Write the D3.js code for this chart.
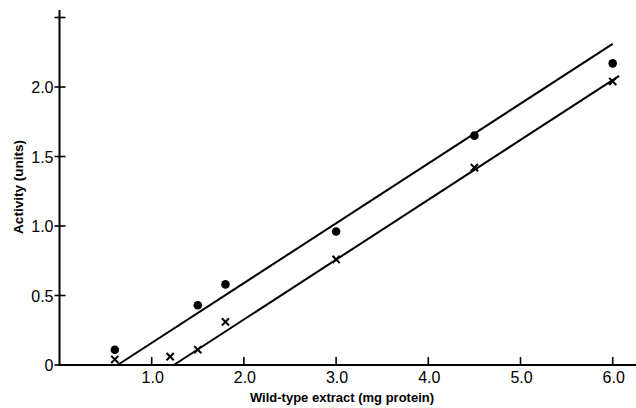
<!DOCTYPE html>
<html>
<head>
<meta charset="utf-8">
<script src="https://cdn.jsdelivr.net/npm/d3@7"></script>
<style>
  html, body { margin: 0; padding: 0; background: #fff; }
  svg { display: block; }
</style>
</head>
<body>
<svg id="chart" width="636" height="408"></svg>
<script>
// ---- data ----
const dotX   = [0.6, 1.5, 1.8, 3.0, 4.5, 6.0];
const dotY   = [0.11, 0.43, 0.58, 0.96, 1.65, 2.17];
const crossX = [0.6, 1.2, 1.5, 1.8, 3.0, 4.5, 6.0];
const crossY = [0.04, 0.06, 0.11, 0.31, 0.76, 1.42, 2.04];
// fitted straight lines (start and end points)
const lineDotsX  = [0.63, 6.0];
const lineDotsY  = [0.0, 2.31];
const lineCrossX = [1.24, 6.07];
const lineCrossY = [0.0, 2.08];
const xTicks = [1, 2, 3, 4, 5, 6];
const xTickLabels = ["1.0", "2.0", "3.0", "4.0", "5.0", "6.0"];
const yTicks = [0, 0.5, 1.0, 1.5, 2.0, 2.5];
const yTickLabels = ["0", "0.5", "1.0", "1.5", "2.0", ""];
const xTitle = "Wild-type extract (mg protein)";
const yTitle = "Activity (units)";

// ---- layout ----
const svg = d3.select("#chart");
const x = d3.scaleLinear().domain([0, 6]).range([59.5, 612.7]);
const y = d3.scaleLinear().domain([0, 2.5]).range([365, 17.5]);
const font = "'Liberation Sans', Arial, Helvetica, sans-serif";

// axes lines
svg.append("line")
  .attr("x1", x(0)).attr("x2", 636)
  .attr("y1", y(0)).attr("y2", y(0))
  .attr("stroke", "#000").attr("stroke-width", 2);
svg.append("line")
  .attr("x1", x(0)).attr("x2", x(0))
  .attr("y1", y(0) + 1).attr("y2", 10)
  .attr("stroke", "#000").attr("stroke-width", 2);

// x ticks (inward)
svg.selectAll(".xt").data(xTicks).join("line")
  .attr("x1", d => x(d)).attr("x2", d => x(d))
  .attr("y1", y(0)).attr("y2", y(0) - 8)
  .attr("stroke", "#000").attr("stroke-width", 1.6);
svg.selectAll(".xl").data(xTicks).join("text")
  .attr("x", d => x(d) + 1).attr("y", y(0) + 18)
  .attr("text-anchor", "middle")
  .attr("font-family", font).attr("font-size", 16)
  .text((d, i) => xTickLabels[i]);

// y ticks (crossing)
svg.selectAll(".yt").data(yTicks).join("line")
  .attr("x1", d => x(0) - 5).attr("x2", d => x(0) + 6)
  .attr("y1", d => y(d)).attr("y2", d => y(d))
  .attr("stroke", "#000").attr("stroke-width", 1.6);
svg.selectAll(".yl").data(yTicks).join("text")
  .attr("x", x(0) - 6).attr("y", d => y(d) + 6)
  .attr("text-anchor", "end")
  .attr("font-family", font).attr("font-size", 16)
  .text((d, i) => yTickLabels[i]);

// titles
svg.append("text")
  .attr("x", 342).attr("y", 402)
  .attr("text-anchor", "middle")
  .attr("font-family", font).attr("font-weight", "bold").attr("font-size", 13)
  .text(xTitle);
svg.append("text")
  .attr("transform", "translate(23,187) rotate(-90)")
  .attr("text-anchor", "middle")
  .attr("font-family", font).attr("font-weight", "bold").attr("font-size", 13.5)
  .text(yTitle);

// fitted lines
const lineGen = d3.line().x(d => x(d[0])).y(d => y(d[1]));
svg.append("path")
  .attr("d", lineGen(d3.zip(lineDotsX, lineDotsY)))
  .attr("fill", "none").attr("stroke", "#000").attr("stroke-width", 2);
svg.append("path")
  .attr("d", lineGen(d3.zip(lineCrossX, lineCrossY)))
  .attr("fill", "none").attr("stroke", "#000").attr("stroke-width", 2);

// dots
svg.selectAll(".dot").data(d3.zip(dotX, dotY)).join("circle")
  .attr("cx", d => x(d[0])).attr("cy", d => y(d[1]))
  .attr("r", 4.3).attr("fill", "#000");

// crosses
const cs = 3.6;
const crossG = svg.selectAll(".cross").data(d3.zip(crossX, crossY)).join("g")
  .attr("transform", d => `translate(${x(d[0])},${y(d[1])})`);
crossG.append("line").attr("x1", -cs).attr("y1", -cs).attr("x2", cs).attr("y2", cs)
  .attr("stroke", "#000").attr("stroke-width", 2);
crossG.append("line").attr("x1", -cs).attr("y1", cs).attr("x2", cs).attr("y2", -cs)
  .attr("stroke", "#000").attr("stroke-width", 2);
</script>
</body>
</html>
